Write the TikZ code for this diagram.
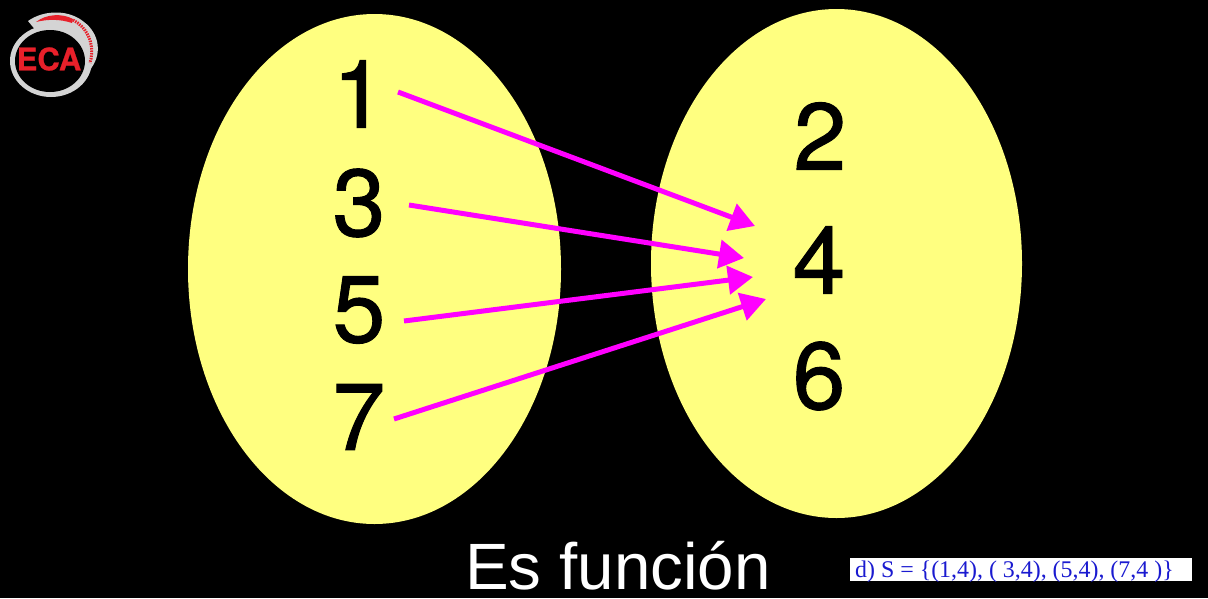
\documentclass[tikz,border=0pt]{standalone}
\usepackage{fontspec}
\setmainfont{Liberation Sans}
\newfontfamily\serifx{Liberation Serif}
\newfontfamily\digitfont[FakeBold=1]{TeX Gyre Heros}
\newfontfamily\logofont[FakeBold=0.8]{TeX Gyre Heros Bold}
\usetikzlibrary{arrows.meta}
\definecolor{ovalfill}{HTML}{FFFF80}
\definecolor{arrowpink}{HTML}{FF00FF}
\definecolor{logored}{HTML}{E8202A}
\definecolor{loggray}{HTML}{D4D4D4}
\definecolor{capblue}{HTML}{1A1AD0}
\tikzset{
  oval/.style={fill=ovalfill,draw=none},
  digit/.style={font=\digitfont\fontsize{95}{95}\selectfont,text=black,inner sep=0pt},
  mapping/.style={draw=arrowpink,line width=5pt,-{Triangle[length=25pt,width=28pt]}}
}
\begin{document}
\begin{tikzpicture}[x=1pt,y=-1pt]
\useasboundingbox[fill=black] (0,0) rectangle (1208,598);
% ovals
\fill[oval] (374.5,269) ellipse [x radius=186.5,y radius=255];
\fill[oval] (836.5,263.5) ellipse [x radius=185.5,y radius=254.5];
% numbers
\node[digit] (n1) at (359,94) {1};
\node[digit] (n3) at (359,203) {3};
\node[digit] (n5) at (359,310) {5};
\node[digit] (n7) at (359,417) {7};
\node[digit] (n2) at (820,136) {2};
\node[digit] (n4) at (819,260) {4};
\node[digit] (n6) at (819,376) {6};
% arrow ends
\coordinate (s1) at (398,92);
\coordinate (s3) at (409,205);
\coordinate (s5) at (404,321);
\coordinate (s7) at (394,419);
\coordinate (t1) at (755,226);
\coordinate (t3) at (744,258);
\coordinate (t5) at (753,277);
\coordinate (t7) at (766,299);
\draw[mapping] (s1) -- (t1);
\draw[mapping] (s3) -- (t3);
\draw[mapping] (s5) -- (t5);
\draw[mapping] (s7) -- (t7);
% caption
\node[font=\fontsize{65.5}{66}\selectfont,text=white,inner sep=0pt,anchor=base] (cap) at (618,589) {Es función};
\node[fill=white,minimum width=342pt,minimum height=23pt,inner sep=0pt,anchor=north west] (box) at (850,558) {};
\node[font=\serifx\fontsize{23.9}{24}\selectfont,text=capblue,inner sep=0pt,anchor=base west] (set) at (855,577) {d) S = \{(1,4), ( 3,4), (5,4), (7,4 )\}};
% logo
\fill[loggray] (51,61) ellipse [x radius=41,y radius=36];
\fill[loggray] (28,21) .. controls (45,9) and (70,10) .. (84,22) .. controls (99,33) and (104,55) .. (88,72) -- (60,60) -- cycle;
\fill[black] (50,61) ellipse [x radius=35,y radius=31];
\fill[logored] (36,22) .. controls (46,14) and (62,13) .. (73,19) -- (72,23) .. controls (60,19) and (48,19) .. (36,22) -- cycle;
\draw[logored,line width=3pt,dash pattern=on 1.5pt off 1pt] (73,20) .. controls (85,26) and (96,42) .. (90,63);
\node[font=\logofont\fontsize{31}{31}\selectfont,text=logored,inner sep=0pt] (eca) at (49,59) {ECA};
\end{tikzpicture}
\end{document}
